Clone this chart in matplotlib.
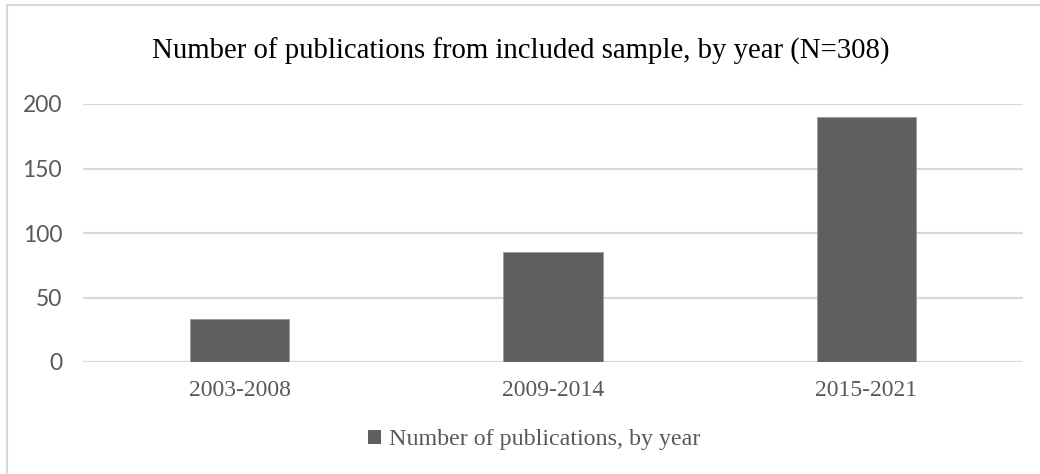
import matplotlib.pyplot as plt
from matplotlib.patches import Rectangle, Patch

# Data
periods = ['2003-2008', '2009-2014', '2015-2021']
publications = [33, 85, 190]
yticks = [0, 50, 100, 150, 200]

W, H = 1040, 474
fig = plt.figure(figsize=(W / 100, H / 100), dpi=100)
ax = fig.add_axes([83 / W, 1 - 362 / H, 940 / W, 258 / H])

ax.bar(range(len(periods)), publications, width=0.316, color='#5f5f5f',
       edgecolor='#9a9a9a', linewidth=0.6, zorder=3, label='Number of publications, by year')

ax.set_xlim(-0.5, len(periods) - 0.5)
ax.set_ylim(0, 200)
ax.set_yticks(yticks)
ax.set_xticks(range(len(periods)))
ax.set_xticklabels(periods, family='Liberation Serif', fontsize=17, color='#595959')
ax.set_yticklabels([str(v) for v in yticks], family='Lato', fontsize=16.5, color='#595959')
ax.tick_params(length=0)
ax.tick_params(axis='x', pad=13)
ax.tick_params(axis='y', pad=15)

ax.grid(axis='y', color='#d9d9d9', linewidth=1.6, zorder=0)
for s in ax.spines.values():
    s.set_visible(False)

fig.text(0.5 * (152 + 890) / W, 1 - 51 / H,
         'Number of publications from included sample, by year (N=308)',
         family='Liberation Serif', fontsize=20.7, ha='center', va='center', color='#000000')

handle = Patch(facecolor='#5f5f5f', edgecolor='none')
fig.legend([handle], ['Number of publications, by year'], loc='center',
           bbox_to_anchor=(0.5 * (370 + 698) / W, 1 - 440 / H), frameon=False,
           prop={'family': 'Liberation Serif', 'size': 17.3}, labelcolor='#595959',
           handlelength=0.55, handleheight=0.55, handletextpad=0.3)

# outer chart border (only top and left edges visible)
fig.patches.append(Rectangle((7 / W, -0.05), 1.1, 1 - 5 / H + 0.05, transform=fig.transFigure,
                             fill=False, edgecolor='#d9d9d9', linewidth=1.5))

fig.savefig('out.png', dpi=100)
